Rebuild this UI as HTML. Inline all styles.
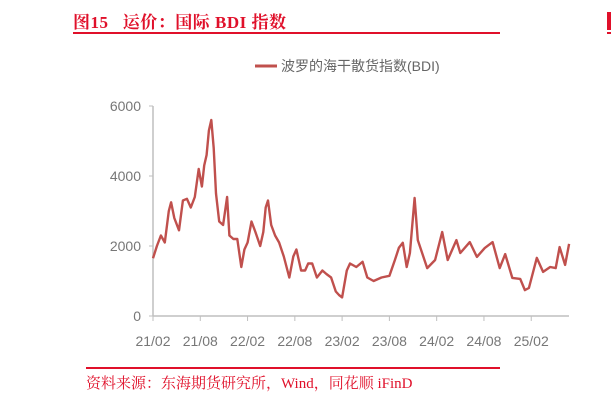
<!DOCTYPE html>
<html><head><meta charset="utf-8">
<style>
body{margin:0;width:611px;height:402px;background:#fff;overflow:hidden;position:relative;font-family:"Liberation Sans","Noto Sans CJK SC",sans-serif}
.title{position:absolute;left:73px;top:8px;font-family:"Liberation Serif","Noto Serif CJK SC",serif;font-size:17px;color:#e0102a;font-weight:bold;letter-spacing:0.5px}
.hl{position:absolute;left:73px;top:32px;width:427px;height:2px;background:#e0102a}
.src{position:absolute;left:86px;top:372px;font-family:"Liberation Serif","Noto Serif CJK SC",serif;font-size:15px;color:#e0102a}
</style></head><body>
<div class="title">图15&nbsp;&nbsp;&nbsp;运价：国际 BDI 指数</div>
<div class="hl"></div>
<div style="position:absolute;left:86px;top:367px;width:414px;height:2px;background:#e0102a"></div>
<div style="position:absolute;left:607px;top:12px;width:4px;height:18px;background:#e0102a"></div>
<div style="position:absolute;left:607px;top:32px;width:4px;height:2px;background:#e0102a"></div>
<div class="src">资料来源：东海期货研究所，Wind，同花顺 iFinD</div>
<svg width="611" height="402" style="position:absolute;left:0;top:0" id="chart">
<line x1="255" y1="66" x2="277" y2="66" stroke="#c0504d" stroke-width="3"/>
<text x="281" y="71" font-size="14" fill="#666" font-family="Liberation Sans,Noto Sans CJK SC,sans-serif">波罗的海干散货指数(BDI)</text>
<g id="axes"></g>
<path id="line" fill="none" stroke="#c0504d" stroke-width="2.4" stroke-linejoin="round"/>
</svg>
<script>
// months since 2021-02
const months=[0,0.5,1,1.5,2,2.3,2.7,3.3,3.8,4.3,4.8,5.3,5.8,6.2,6.5,6.8,7.1,7.4,7.7,8,8.4,8.9,9.4,9.7,10.2,10.7,11.2,11.6,12,12.5,13,13.6,14,14.3,14.6,15,15.5,16,16.6,17.3,17.8,18.2,18.8,19.3,19.7,20.2,20.8,21.5,22,22.6,23.2,23.6,24,24.6,25,25.8,26.6,27.2,28,29,30,30.7,31.2,31.7,32.2,32.6,33.2,33.6,34.3,34.8,35.8,36.7,37.4,38.5,39,40.2,41.1,42.1,43.1,44,44.7,45.6,46.6,47.2,47.7,48.7,49.5,50.4,51.1,51.6,52.3,52.8];
const values=[1650,2000,2300,2100,3000,3250,2800,2450,3300,3350,3100,3400,4200,3700,4300,4600,5300,5600,4800,3500,2700,2600,3400,2300,2200,2200,1400,1900,2100,2700,2400,2000,2400,3100,3300,2600,2300,2100,1700,1100,1700,1900,1300,1300,1500,1500,1100,1300,1200,1100,700,600,530,1300,1500,1400,1550,1100,1000,1100,1150,1600,1950,2090,1400,1800,3370,2170,1700,1370,1600,2400,1600,2170,1800,2110,1690,1940,2110,1370,1770,1090,1060,740,800,1660,1260,1400,1370,1970,1460,2060];
const yTicks=[0,2000,4000,6000];
const xLabels=["21/02","21/08","22/02","22/08","23/02","23/08","24/02","24/08","25/02"];
const X0=153,XPM=7.88,Y0=316,YS=0.035,XEND=569;
const xs=m=>X0+m*XPM, ys=v=>Y0-v*YS;
const ns="http://www.w3.org/2000/svg",ax=document.getElementById('axes');
function mk(t,a){const e=document.createElementNS(ns,t);for(const k in a)e.setAttribute(k,a[k]);ax.appendChild(e);return e;}
let e=mk('line',{x1:X0,y1:ys(6000),x2:X0,y2:Y0,stroke:'#bfbfbf','stroke-width':1.5});


e=mk('line',{x1:X0,y1:Y0,x2:XEND,y2:Y0,stroke:'#bfbfbf','stroke-width':1.5});


yTicks.forEach(v=>{
 const t=mk('line',{x1:X0-4,y1:ys(v),x2:X0,y2:ys(v),stroke:'#bfbfbf'});
 
 
 const l=mk('text',{x:X0-12,y:ys(v)+5,'text-anchor':'end','font-size':14,fill:'#777'});
 l.textContent=v;
 
 
});
xLabels.forEach((s,i)=>{
 const x=xs(i*6);
 const t=mk('line',{x1:x,y1:Y0,x2:x,y2:Y0+5,stroke:'#bfbfbf'});
 
 
 const l=mk('text',{x:x,y:Y0+30,'text-anchor':'middle','font-size':14,fill:'#777'});
 l.textContent=s;
 
 
});
document.getElementById('line').setAttribute('d',months.map((m,i)=>(i?'L':'M')+xs(m).toFixed(1)+','+ys(values[i]).toFixed(1)).join(''));
</script>
</body></html>
